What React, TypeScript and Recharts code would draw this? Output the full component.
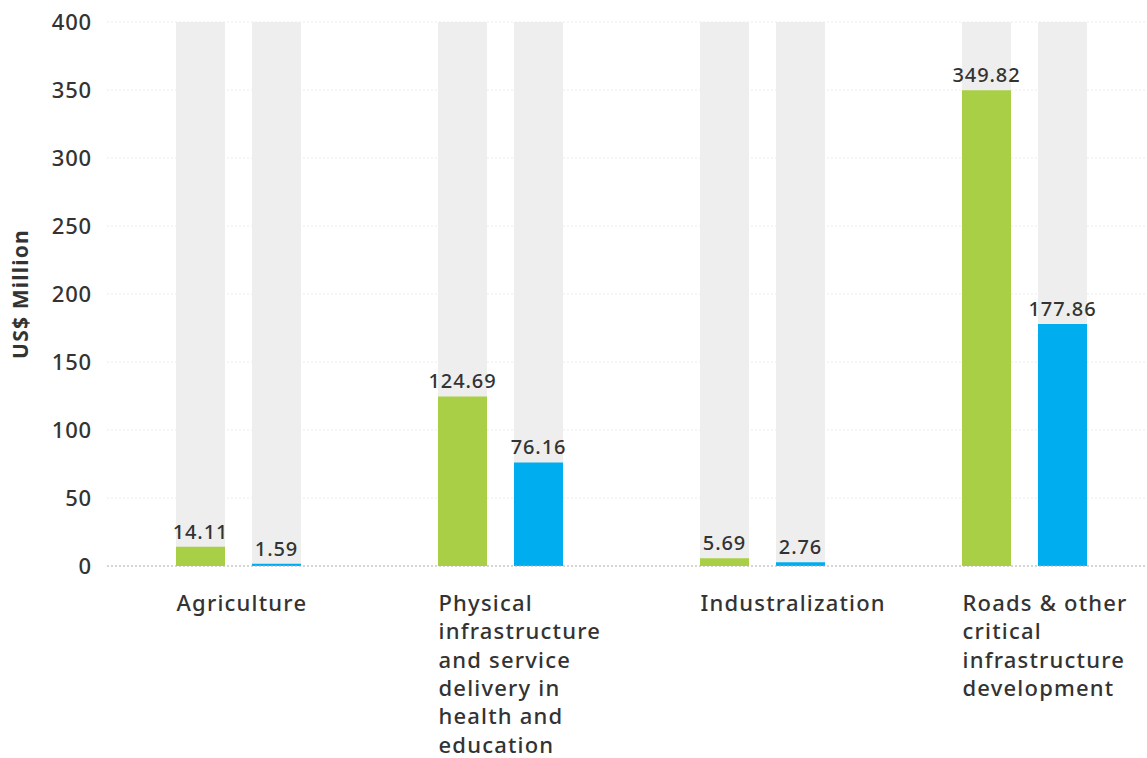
import { BarChart, Bar, XAxis, YAxis, CartesianGrid, LabelList } from 'recharts';

const categories = [
  'Agriculture',
  'Physical infrastructure and service delivery in health and education',
  'Industralization',
  'Roads & other critical infrastructure development',
];
const tickLines = [
  ['Agriculture'],
  ['Physical', 'infrastructure', 'and service', 'delivery in', 'health and', 'education'],
  ['Industralization'],
  ['Roads & other', 'critical', 'infrastructure', 'development'],
];
const greenValues = [14.11, 124.69, 5.69, 349.82];
const blueValues = [1.59, 76.16, 2.76, 177.86];
const yTicks = [0, 50, 100, 150, 200, 250, 300, 350, 400];

const GREEN = '#a8cf45';
const BLUE = '#00aeef';
const TEXT = '#333333';
const FONT = '"Noto Sans", sans-serif';

const data = categories.map((name, i) => ({
  name,
  green: greenValues[i],
  blue: blueValues[i],
}));

const BAR = 49;
const GAP = 27;

function CategoryTick(props: any) {
  const { x, y, index } = props;
  const left = x - (BAR * 2 + GAP) / 2 + 1;
  const lines = tickLines[index] || [];
  return (
    <text x={left} y={y} fill={TEXT} fontSize={22} fontFamily={FONT} fontWeight={500} letterSpacing={1.2} textAnchor="start">
      {lines.map((l, i) => (
        <tspan key={i} x={left} dy={i === 0 ? 37 : 28.3}>{l}</tspan>
      ))}
    </text>
  );
}

const labelStyle = { fill: TEXT, fontSize: 20, fontFamily: FONT, fontWeight: 500, letterSpacing: 0.9 };

export default function App() {
  return (
    <div style={{ position: 'absolute', left: 0, top: 0, width: 1147, height: 758, overflow: 'hidden', background: '#fff' }}>
      <BarChart
        width={1155}
        height={758}
        data={data}
        margin={{ top: 22, right: 0, bottom: 0, left: 0 }}
        barSize={BAR}
        barGap={GAP}
      >
        <CartesianGrid vertical={false} stroke="#ececec" strokeDasharray="2 2" />
        <XAxis
          dataKey="name"
          height={192}
          tickLine={false}
          axisLine={{ stroke: '#b5b5b5', strokeDasharray: '2 2' }}
          tick={<CategoryTick />}
          interval={0}
        />
        <YAxis
          width={107}
          domain={[0, 400]}
          ticks={yTicks}
          tickLine={false}
          axisLine={false}
          tickMargin={9}
          tick={{ fill: TEXT, fontSize: 22, fontFamily: FONT, fontWeight: 500, letterSpacing: 0.8 }}
          label={{
            value: 'US$ Million',
            angle: -90,
            position: 'insideLeft',
            dx: 16,
            style: { fill: TEXT, fontSize: 21, fontFamily: FONT, fontWeight: 700, letterSpacing: 1.2, textAnchor: 'middle' },
          }}
        />
        <Bar dataKey="green" fill={GREEN} background={{ fill: '#eeeeee' }} isAnimationActive={false}>
          <LabelList
            dataKey="green"
            position="top"
            offset={8}
            formatter={(v: any) => Number(v).toFixed(2)}
            style={labelStyle}
          />
        </Bar>
        <Bar dataKey="blue" fill={BLUE} background={{ fill: '#eeeeee' }} isAnimationActive={false}>
          <LabelList
            dataKey="blue"
            position="top"
            offset={8}
            formatter={(v: any) => Number(v).toFixed(2)}
            style={labelStyle}
          />
        </Bar>
      </BarChart>
    </div>
  );
}
